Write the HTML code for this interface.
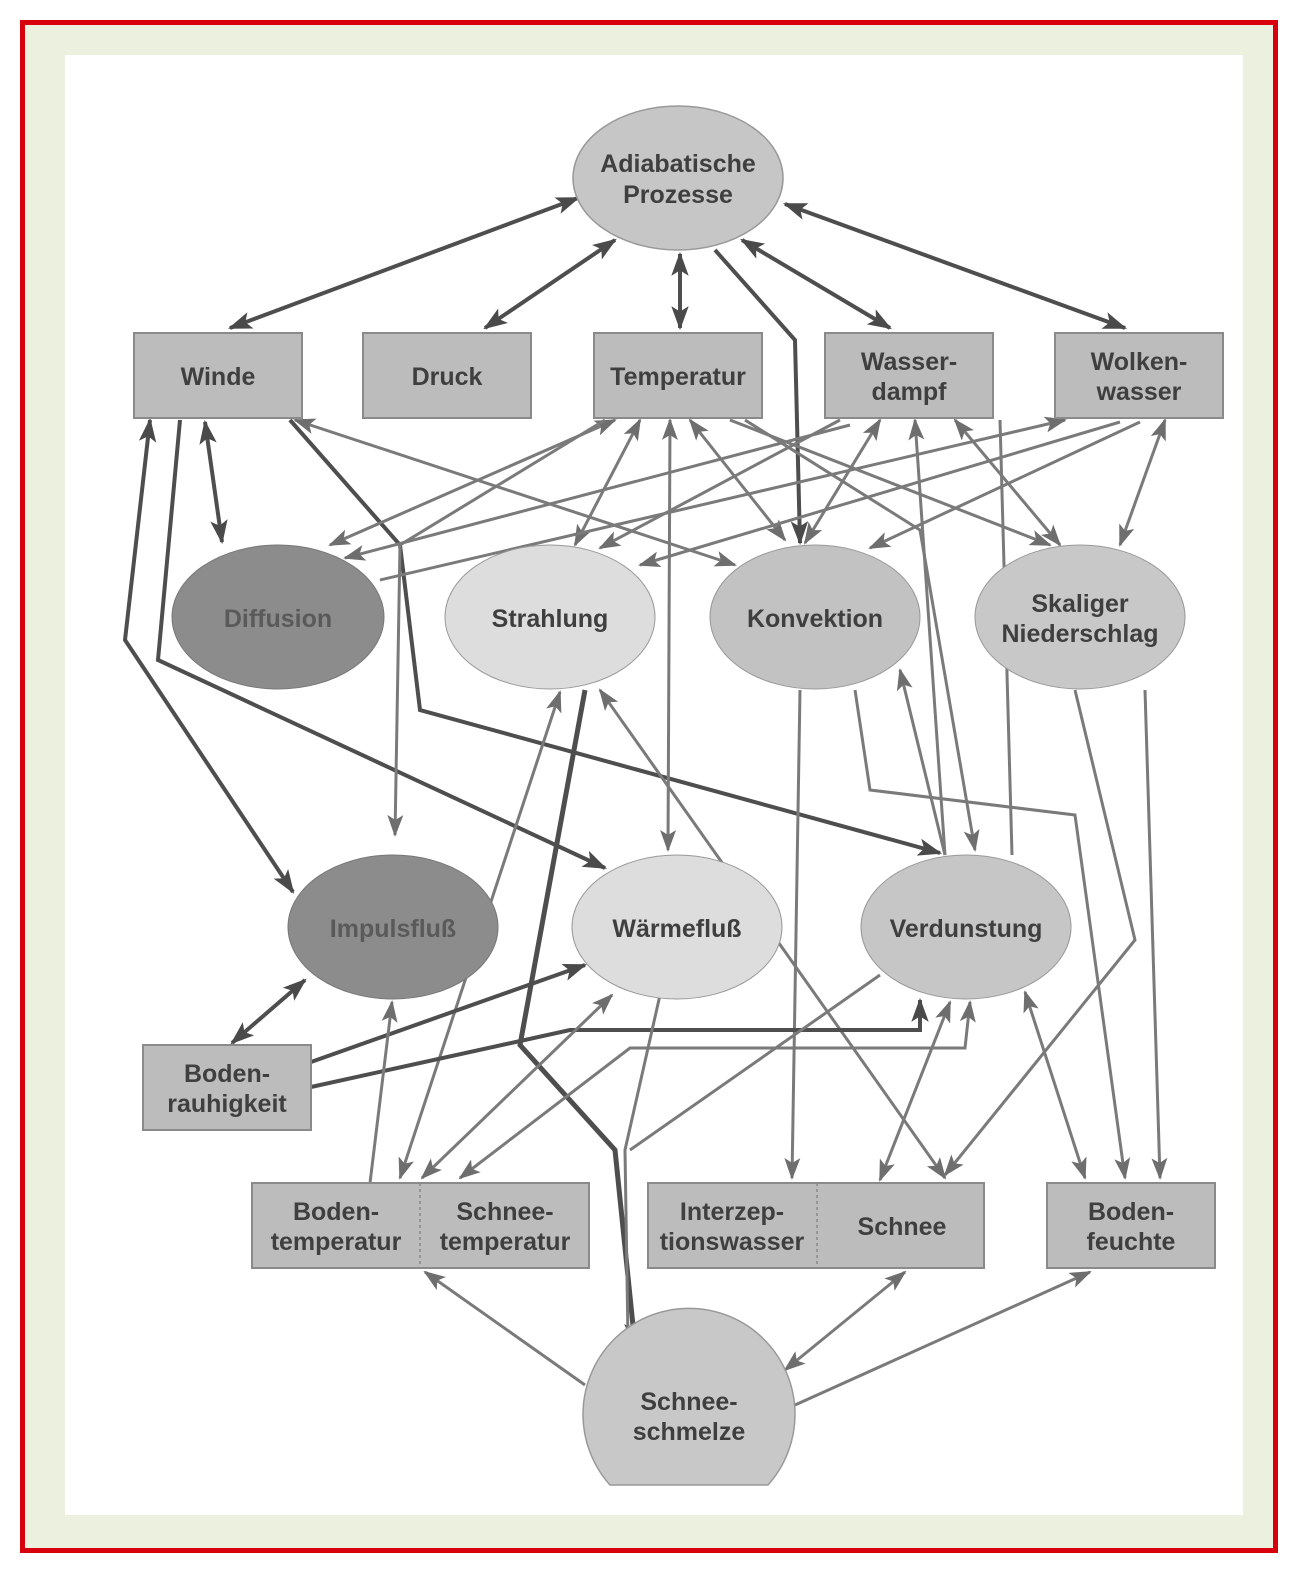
<!DOCTYPE html>
<html><head><meta charset="utf-8"><style>
html,body{margin:0;padding:0;background:#fff}
svg{display:block}
text{font-family:"Liberation Sans",sans-serif;font-size:25px;font-weight:bold;fill:#3f3f3f;text-anchor:middle}
</style></head><body>
<svg width="1303" height="1576" viewBox="0 0 1303 1576" xmlns="http://www.w3.org/2000/svg">
<defs>
<marker id="a" viewBox="0 0 22 16" refX="20" refY="8" markerWidth="22" markerHeight="16" markerUnits="userSpaceOnUse" orient="auto-start-reverse"><path d="M0,0 L22,8 L0,16 L5,8z" fill="#6e6e6e"/></marker>
<marker id="d" viewBox="0 0 22 16" refX="20" refY="8" markerWidth="24" markerHeight="18" markerUnits="userSpaceOnUse" orient="auto-start-reverse"><path d="M0,0 L22,8 L0,16 L5,8z" fill="#4a4a4a"/></marker>
<style>
.l{fill:none;stroke:#7a7a7a;stroke-width:3;marker-end:url(#a)}
.b{marker-start:url(#a)}
.k{fill:none;stroke:#4e4e4e;stroke-width:4;marker-end:url(#d)}
.kb{marker-start:url(#d)}
.box{fill:#bcbcbc;stroke:#8a8a8a;stroke-width:2}
</style>
</defs>
<rect x="0" y="0" width="1303" height="1576" fill="#fff"/>
<rect x="22.5" y="22.5" width="1253" height="1528" fill="#ecf0de" stroke="#d9000d" stroke-width="5"/>
<rect x="65" y="55" width="1178" height="1460" fill="#fff"/>

<g>
<line class="k kb" x1="578" y1="198" x2="230" y2="328"/>
<line class="k kb" x1="615" y1="240" x2="485" y2="328"/>
<line class="k kb" x1="680" y1="254" x2="680" y2="328"/>
<polyline class="k" points="715,250 795,340 800,543"/>
<line class="k kb" x1="742" y1="240" x2="890" y2="328"/>
<line class="k kb" x1="785" y1="204" x2="1125" y2="328"/>

<line class="k kb" x1="205" y1="422" x2="222" y2="542"/>
<polyline class="k kb" points="150,420 125,640 293,892"/>
<polyline class="k" points="180,420 158,660 605,868"/>
<polyline class="k" points="290,420 400,545 420,710 940,853"/>
<line class="l b" x1="735" y1="565" x2="295" y2="420"/>

<line class="l b" x1="615" y1="420" x2="330" y2="545"/>
<polyline class="l" points="605,420 400,545 395,835"/>
<line class="l b" x1="640" y1="420" x2="575" y2="545"/>
<line class="l b" x1="670" y1="420" x2="668" y2="850"/>
<line class="l b" x1="690" y1="420" x2="785" y2="540"/>
<line class="l" x1="730" y1="420" x2="1050" y2="545"/>
<polyline class="l" points="745,420 920,530 975,850"/>

<line class="l" x1="850" y1="425" x2="345" y2="558"/>
<line class="l" x1="840" y1="420" x2="600" y2="548"/>
<line class="l b" x1="880" y1="420" x2="805" y2="543"/>
<line class="l b" x1="955" y1="420" x2="1060" y2="545"/>
<line class="l" x1="945" y1="855" x2="915" y2="420"/>
<line class="l" x1="1012" y1="855" x2="1000" y2="420" style="marker-end:none"/>

<line class="l" x1="380" y1="580" x2="1065" y2="420"/>
<line class="l" x1="1120" y1="422" x2="640" y2="565"/>
<line class="l" x1="1140" y1="422" x2="870" y2="548"/>
<line class="l b" x1="1165" y1="420" x2="1120" y2="545"/>

<line class="l b" x1="600" y1="690" x2="945" y2="1178"/>
<polyline class="k" points="585,690 520,1045 615,1150 635,1345" style="stroke-width:5"/>
<line class="l b" x1="560" y1="692" x2="400" y2="1178"/>
<line class="l" x1="800" y1="690" x2="792" y2="1178"/>
<polyline class="l" points="855,690 870,790 1075,815 1125,1178"/>
<line class="l" x1="945" y1="855" x2="900" y2="670"/>
<line class="l" x1="1145" y1="690" x2="1160" y2="1178"/>
<polyline class="l" points="1075,690 1135,940 945,1175"/>
<line class="l b" x1="1025" y1="992" x2="1085" y2="1178"/>

<line class="k kb" x1="232" y1="1043" x2="305" y2="980"/>
<line class="k" x1="311" y1="1062" x2="585" y2="965"/>
<polyline class="k" points="311,1087 570,1030 920,1030 920,1000"/>
<line class="l" x1="370" y1="1183" x2="392" y2="1002"/>
<line class="l b" x1="612" y1="995" x2="422" y2="1178"/>
<polyline class="l b" points="970,1002 965,1048 630,1048 460,1178"/>
<polyline class="l" points="660,995 625,1150 628,1340" style="marker-end:none"/>
<line class="l" x1="880" y1="975" x2="630" y2="1150" style="marker-end:none"/>
<line class="l b" x1="880" y1="1180" x2="950" y2="1002"/>

<line class="l" x1="585" y1="1385" x2="425" y2="1272"/>
<line class="l b" x1="785" y1="1370" x2="905" y2="1272"/>
<line class="l" x1="795" y1="1405" x2="1090" y2="1272"/>
</g>

<ellipse cx="678" cy="178" rx="105" ry="72" fill="#c6c6c6" stroke="#999" stroke-width="1.5"/>
<text x="678" y="172">Adiabatische</text><text x="678" y="203">Prozesse</text>

<rect class="box" x="134" y="333" width="168" height="85"/><text x="218" y="385">Winde</text>
<rect class="box" x="363" y="333" width="168" height="85"/><text x="447" y="385">Druck</text>
<rect class="box" x="594" y="333" width="168" height="85"/><text x="678" y="385">Temperatur</text>
<rect class="box" x="825" y="333" width="168" height="85"/><text x="909" y="370">Wasser-</text><text x="909" y="400">dampf</text>
<rect class="box" x="1055" y="333" width="168" height="85"/><text x="1139" y="370">Wolken-</text><text x="1139" y="400">wasser</text>

<ellipse cx="278" cy="617" rx="106" ry="72" fill="#8c8c8c" stroke="#777"/>
<text x="278" y="627" style="fill:#5a5a5a">Diffusion</text>
<ellipse cx="550" cy="617" rx="105" ry="72" fill="#dddddd" stroke="#999"/>
<text x="550" y="627">Strahlung</text>
<ellipse cx="815" cy="617" rx="105" ry="72" fill="#c2c2c2" stroke="#999"/>
<text x="815" y="627">Konvektion</text>
<ellipse cx="1080" cy="617" rx="105" ry="72" fill="#c8c8c8" stroke="#999"/>
<text x="1080" y="612">Skaliger</text><text x="1080" y="642">Niederschlag</text>

<ellipse cx="393" cy="927" rx="105" ry="72" fill="#8c8c8c" stroke="#777"/>
<text x="393" y="937" style="fill:#5a5a5a">Impulsfluß</text>
<ellipse cx="677" cy="927" rx="105" ry="72" fill="#dddddd" stroke="#999"/>
<text x="677" y="937">Wärmefluß</text>
<ellipse cx="966" cy="927" rx="105" ry="72" fill="#c6c6c6" stroke="#999"/>
<text x="966" y="937">Verdunstung</text>

<rect class="box" x="143" y="1045" width="168" height="85"/><text x="227" y="1082">Boden-</text><text x="227" y="1112">rauhigkeit</text>

<rect class="box" x="252" y="1183" width="337" height="85"/>
<line x1="420" y1="1183" x2="420" y2="1268" stroke="#888" stroke-width="1.5" stroke-dasharray="3,3"/>
<text x="336" y="1220">Boden-</text><text x="336" y="1250">temperatur</text>
<text x="505" y="1220">Schnee-</text><text x="505" y="1250">temperatur</text>
<rect class="box" x="648" y="1183" width="336" height="85"/>
<line x1="817" y1="1183" x2="817" y2="1268" stroke="#888" stroke-width="1.5" stroke-dasharray="3,3"/>
<text x="732" y="1220">Interzep-</text><text x="732" y="1250">tionswasser</text>
<text x="902" y="1235">Schnee</text>
<rect class="box" x="1047" y="1183" width="168" height="85"/><text x="1131" y="1220">Boden-</text><text x="1131" y="1250">feuchte</text>

<path d="M 610,1485 A 106 106 0 1 1 768,1485 Z" fill="#c8c8c8" stroke="#999" stroke-width="1.5"/>
<text x="689" y="1410">Schnee-</text><text x="689" y="1440">schmelze</text>
</svg>
</body></html>
